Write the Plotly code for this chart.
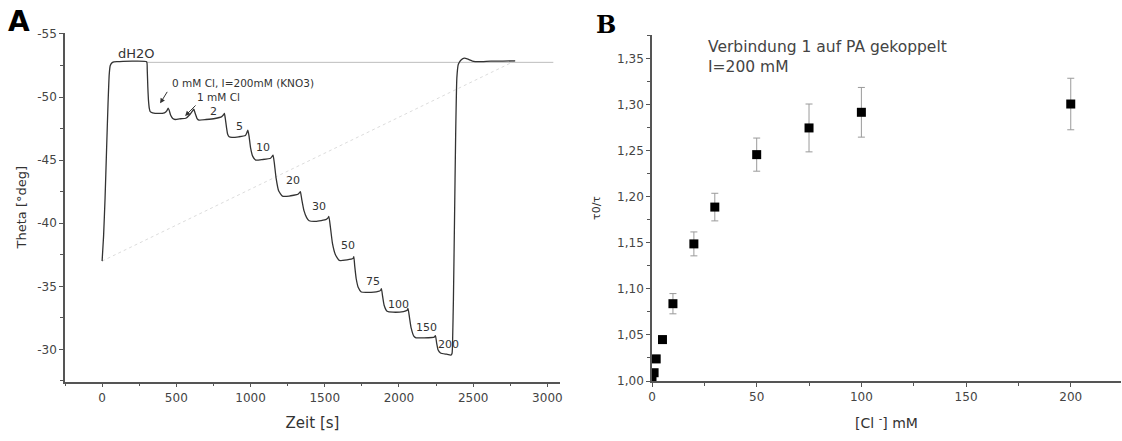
import plotly.graph_objects as go

# ---------------- Panel A data: SPR-like trace Theta vs time ----------------
time_s = [0, 10, 20, 30, 40, 48, 55, 70, 100, 300, 304, 308, 312, 318, 324, 340, 380, 420,
          438, 445, 452, 462, 476, 492, 530, 564, 590, 612, 618, 626, 640, 652, 700, 760,
          806, 818, 824, 830, 838, 846, 856, 875, 920, 965, 976, 982, 990, 1000, 1015,
          1035, 1080, 1135, 1146, 1152, 1160, 1172, 1190, 1215, 1260, 1320, 1330, 1336,
          1345, 1360, 1378, 1395, 1440, 1510, 1522, 1528, 1538, 1552, 1572, 1598, 1650,
          1690, 1696, 1702, 1712, 1726, 1746, 1790, 1860, 1876, 1882, 1890, 1900, 1920,
          1960, 2030, 2055, 2061, 2070, 2082, 2100, 2115, 2170, 2238, 2246, 2254, 2264,
          2280, 2320, 2350, 2358, 2362, 2367, 2374, 2382, 2390, 2400, 2420, 2440, 2465,
          2495, 2540, 2620, 2700, 2783]
theta_deg = [-37.0, -39.0, -42.0, -45.8, -49.5, -51.8, -52.5, -52.75, -52.8, -52.8, -52.2, -50.8,
             -49.8, -49.1, -48.85, -48.75, -48.7, -48.75, -48.95, -49.12, -48.95, -48.55, -48.3,
             -48.22, -48.28, -48.32, -48.6, -48.95, -49.05, -48.75, -48.3, -48.18, -48.22,
             -48.3, -48.45, -48.6, -48.7, -48.3, -47.6, -47.05, -46.85, -46.8, -46.85, -46.95,
             -47.2, -47.38, -46.9, -46.0, -45.3, -45.0, -45.05, -45.15, -45.3, -45.4, -44.8,
             -43.6, -42.55, -42.15, -42.15, -42.3, -42.42, -42.5, -41.9, -41.0, -40.45, -40.2,
             -40.15, -40.3, -40.42, -40.55, -39.7, -38.4, -37.5, -37.05, -37.1, -37.2, -37.35,
             -36.6, -35.6, -34.9, -34.55, -34.52, -34.6, -34.68, -34.82, -34.2, -33.5, -33.02,
             -32.95, -33.0, -33.1, -33.25, -32.6, -31.7, -31.05, -30.92, -30.92, -30.98, -31.1,
             -30.5, -29.95, -29.72, -29.62, -29.55, -29.7, -31.0, -34.0, -40.0, -47.0, -51.5,
             -52.6, -52.95, -53.08, -53.0, -52.85, -52.8, -52.85, -52.85, -52.87]

baseline_theta = -52.75
baseline_t = [300, 3040]

a_xticks = [0, 500, 1000, 1500, 2000, 2500, 3000]
a_yticks = [-55, -50, -45, -40, -35, -30]

# step annotations: label, time position, theta position
step_labels = ["2", "5", "10", "20", "30", "50", "75", "100", "150", "200"]
step_label_t = [748, 923, 1085, 1287, 1462, 1658, 1826, 1995, 2183, 2332]
step_label_theta = [-48.85, -47.65, -46.0, -43.4, -41.3, -38.25, -35.4, -33.6, -31.7, -30.4]

# ---------------- Panel B data: tau0/tau vs [Cl-] ----------------
cl_mM = [0, 1, 2, 5, 10, 20, 30, 50, 75, 100, 200]
tau_ratio = [1.000, 1.009, 1.024, 1.045, 1.084, 1.149, 1.189, 1.246, 1.275, 1.292, 1.301]
tau_err = [0.0, 0.003, 0.004, 0.004, 0.011, 0.013, 0.015, 0.018, 0.026, 0.027, 0.028]

b_xticks = [0, 50, 100, 150, 200]
b_yticks = [1.00, 1.05, 1.10, 1.15, 1.20, 1.25, 1.30, 1.35]

W, H = 1122, 441
FONT = "DejaVu Sans"
AXC = "#555555"
TXC = "#444444"

fig = go.Figure()

# faint closing line of the trace (first to last point)
fig.add_trace(go.Scatter(x=[time_s[0], time_s[-1]], y=[theta_deg[0], theta_deg[-1]],
                         mode="lines", line=dict(color="#dcdcdc", width=1, dash="dot"),
                         xaxis="x", yaxis="y", showlegend=False, hoverinfo="skip"))
# baseline
fig.add_trace(go.Scatter(x=baseline_t, y=[baseline_theta, baseline_theta], mode="lines",
                         line=dict(color="#bdbdbd", width=1), xaxis="x", yaxis="y",
                         showlegend=False, hoverinfo="skip"))
# main trace
fig.add_trace(go.Scatter(x=time_s, y=theta_deg, mode="lines",
                         line=dict(color="#333333", width=1.3, shape="spline", smoothing=0.4),
                         xaxis="x", yaxis="y", showlegend=False))

# panel B points
fig.add_trace(go.Scatter(x=cl_mM, y=tau_ratio, mode="markers",
                         marker=dict(symbol="square", size=9, color="black"),
                         error_y=dict(type="data", array=tau_err, visible=True,
                                      color="#9a9a9a", thickness=1, width=3.5),
                         xaxis="x2", yaxis="y2", showlegend=False))

axis_common = dict(showgrid=False, zeroline=False, showline=True, linecolor=AXC, linewidth=1.6,
                   ticks="outside", ticklen=4, tickwidth=1.2, tickcolor=AXC,
                   tickfont=dict(family=FONT, size=12, color=TXC), mirror=False,
                   automargin=False)

fig.update_layout(
    width=W, height=H,
    margin=dict(l=0, r=0, t=0, b=0),
    paper_bgcolor="white", plot_bgcolor="white",
    font=dict(family=FONT, color=TXC),
    xaxis=dict(domain=[65 / W, 560 / W], range=[-250, 3085], anchor="y",
               tickmode="array", tickvals=a_xticks, ticktext=[str(v) for v in a_xticks],
               minor=dict(ticks="outside", ticklen=3, tickcolor=AXC, dtick=250, tick0=0),
               title=dict(text="Zeit [s]", font=dict(family=FONT, size=15, color="#333333"),
                          standoff=14),
               **axis_common),
    yaxis=dict(domain=[1 - 381.6 / H, 1 - 32.7 / H], range=[-27.45, -55.1], anchor="x",
               tickmode="array", tickvals=a_yticks, ticktext=[str(v) for v in a_yticks],
               minor=dict(ticks="outside", ticklen=3, tickcolor=AXC, dtick=2.5, tick0=0),
               title=dict(text="Theta [°deg]", font=dict(family=FONT, size=13, color="#333333"),
                          standoff=8),
               **axis_common),
    xaxis2=dict(domain=[652 / W, 1121 / W], range=[0, 224], anchor="y2",
                tickmode="array", tickvals=b_xticks, ticktext=[str(v) for v in b_xticks],
                minor=dict(ticks="outside", ticklen=3, tickcolor=AXC, dtick=25, tick0=0),
                title=dict(text="[Cl <sup>-</sup>] mM",
                           font=dict(family=FONT, size=14, color="#333333"), standoff=15),
                **axis_common),
    yaxis2=dict(domain=[1 - 381 / H, 1 - 35 / H], range=[1.0, 1.376], anchor="x2",
                tickmode="array", tickvals=b_yticks,
                ticktext=[f"{v:.2f}".replace(".", ",") for v in b_yticks],
                minor=dict(ticks="outside", ticklen=3, tickcolor=AXC, dtick=0.025, tick0=0),
                title=dict(text="τ0/τ", font=dict(family=FONT, size=11, color="#333333"),
                           standoff=14),
                **axis_common),
)

ann = []
# panel letters
ann.append(dict(text="<b>A</b>", x=19 / W, y=1 - 22 / H, xref="paper", yref="paper",
                xanchor="center", yanchor="middle",
                showarrow=False, font=dict(family="DejaVu Sans", size=28, color="black")))
ann.append(dict(text="<b>B</b>", x=606 / W, y=1 - 25 / H, xref="paper", yref="paper",
                xanchor="center", yanchor="middle",
                showarrow=False, font=dict(family="DejaVu Serif", size=24, color="black")))
# panel A texts
ann.append(dict(text="dH2O", x=229, y=-53.45, xref="x", yref="y", showarrow=False,
                xanchor="center", yanchor="middle",
                font=dict(family=FONT, size=13, color="#333333")))
ann.append(dict(text="0 mM Cl, I=200mM (KNO3)", x=458, y=-51.1, xref="x", yref="y",
                xanchor="left", yanchor="middle", showarrow=False,
                font=dict(family=FONT, size=10.5, color="#333333")))
ann.append(dict(text="1 mM Cl", x=627, y=-50.0, xref="x", yref="y",
                xanchor="left", yanchor="middle", showarrow=False,
                font=dict(family=FONT, size=10.5, color="#333333")))
for lab, tx, ty in zip(step_labels, step_label_t, step_label_theta):
    ann.append(dict(text=lab, x=tx, y=ty, xref="x", yref="y", showarrow=False,
                    xanchor="center", yanchor="middle",
                    font=dict(family=FONT, size=11, color="#333333")))
# small arrows
ann.append(dict(text="", x=391, y=-49.5, xref="x", yref="y", ax=8, ay=-13,
                showarrow=True, arrowhead=2, arrowsize=1, arrowwidth=1, arrowcolor="#333333"))
ann.append(dict(text="", x=559, y=-48.5, xref="x", yref="y", ax=12, ay=-12,
                showarrow=True, arrowhead=2, arrowsize=1, arrowwidth=1, arrowcolor="#333333"))
# panel B texts
ann.append(dict(text="Verbindung 1 auf PA gekoppelt", x=706 / W, y=1 - 47 / H,
                xref="paper", yref="paper", xanchor="left", yanchor="middle", showarrow=False,
                font=dict(family=FONT, size=15.5, color=TXC)))
ann.append(dict(text="I=200 mM", x=706 / W, y=1 - 67 / H,
                xref="paper", yref="paper", xanchor="left", yanchor="middle", showarrow=False,
                font=dict(family=FONT, size=15.5, color=TXC)))
fig.update_layout(annotations=ann)

fig.write_html("out.html", config={"displayModeBar": False},
               post_script="document.body.style.margin='0';document.body.style.overflow='hidden';")
